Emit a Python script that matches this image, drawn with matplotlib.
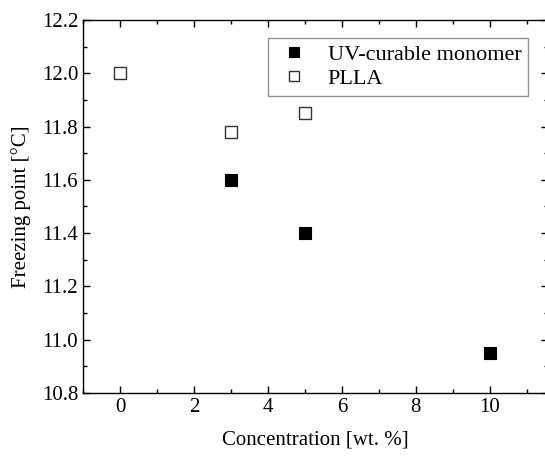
import matplotlib
matplotlib.use("Agg")
import matplotlib.pyplot as plt
from matplotlib.ticker import MultipleLocator, FormatStrFormatter

# data
uv_conc = [3, 5, 10]
uv_freeze = [11.60, 11.40, 10.95]
plla_conc = [0, 3, 5]
plla_freeze = [12.00, 11.78, 11.85]

plt.rcParams['font.family'] = ['Liberation Serif', 'DejaVu Serif']

fig = plt.figure(figsize=(5.45, 4.59), dpi=100)
# right edge of the frame falls just outside the picture, as in the original
ax = fig.add_axes([83 / 545, 66 / 459, 465 / 545, 373 / 459])

ax.plot(uv_conc, uv_freeze, 's', color='black', markersize=8.5,
        markeredgewidth=0.8, label='UV-curable monomer')
ax.plot(plla_conc, plla_freeze, 's', markerfacecolor='white',
        markeredgecolor='#333333', markersize=8.5, markeredgewidth=1.0,
        label='PLLA')

ax.set_xlim(-1, 11.57)
ax.set_ylim(10.8, 12.2)
ax.xaxis.set_major_locator(MultipleLocator(2))
ax.xaxis.set_minor_locator(MultipleLocator(1))
ax.yaxis.set_major_locator(MultipleLocator(0.2))
ax.yaxis.set_minor_locator(MultipleLocator(0.1))
ax.yaxis.set_major_formatter(FormatStrFormatter('%.1f'))
ax.tick_params(which='both', direction='in', top=True, right=True,
               labelsize=15, width=1)
ax.tick_params(which='major', length=5)
ax.tick_params(which='minor', length=3)
for s in ax.spines.values():
    s.set_linewidth(1.0)
ax.spines['right'].set_visible(False)

ax.set_xlabel('Concentration [wt. %]', fontsize=15, labelpad=10)
ax.set_ylabel('Freezing point [°C]', fontsize=15, labelpad=8)

leg = ax.legend(loc='upper right', bbox_to_anchor=(0.957, 0.952),
                borderaxespad=0, fontsize=16, fancybox=False,
                handletextpad=0.6, handlelength=1.8, borderpad=0.3,
                labelspacing=0.15, frameon=True, markerscale=0.9)
leg.get_frame().set_edgecolor('#777777')
leg.get_frame().set_linewidth(1.0)

fig.savefig('out.png', dpi=100)
